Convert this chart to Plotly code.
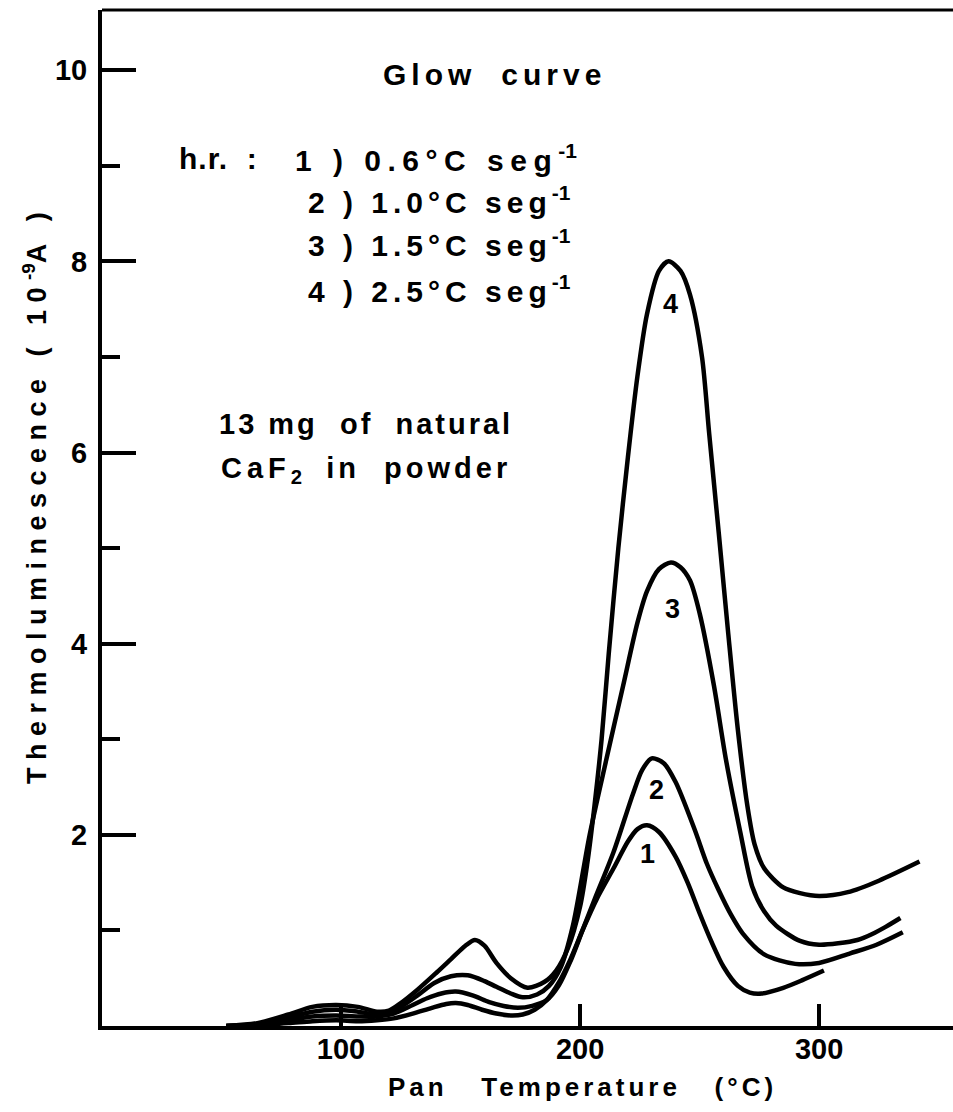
import plotly.graph_objects as go

# Thermoluminescence glow curves of natural CaF2 powder at four heating rates
heating_rates = ["0.6", "1.0", "1.5", "2.5"]
curve_names = ["1", "2", "3", "4"]

temp_1 = [52, 65, 78, 88, 98, 107, 115, 122, 130, 138, 144, 148, 153, 159, 165, 171, 176, 181, 186,
          191, 196, 201, 207, 214, 220, 224, 228, 233, 240, 245, 250, 255, 260, 266, 271, 276, 285, 293, 302]
tl_1 = [0, 0.01, 0.03, 0.05, 0.06, 0.05, 0.06, 0.08, 0.13, 0.19, 0.23, 0.24, 0.22, 0.17, 0.13, 0.11, 0.12, 0.17, 0.27,
        0.45, 0.7, 1.0, 1.33, 1.65, 1.93, 2.06, 2.1, 2.03, 1.77, 1.5, 1.18, 0.88, 0.62, 0.42, 0.35, 0.34, 0.4, 0.48, 0.58]

temp_2 = [52, 65, 78, 88, 98, 107, 115, 122, 130, 136, 142, 148, 155, 162, 168, 174, 180, 186, 191, 196,
          201, 206, 214, 222, 226, 230, 235, 240, 248, 253, 258, 263, 268, 277, 290, 300, 313, 324, 335]
tl_2 = [0, 0.01, 0.06, 0.1, 0.11, 0.1, 0.1, 0.13, 0.22, 0.29, 0.34, 0.36, 0.32, 0.25, 0.21, 0.19, 0.21, 0.27, 0.42, 0.68,
        1.0, 1.32, 1.82, 2.42, 2.68, 2.8, 2.75, 2.55, 2.05, 1.7, 1.42, 1.17, 0.97, 0.75, 0.65, 0.66, 0.76, 0.85, 0.98]

temp_3 = [52, 65, 78, 88, 98, 107, 115, 120, 125, 132, 139, 146, 153, 160, 165, 171, 176, 182, 187, 192, 197,
          204, 211, 218, 224, 228, 233, 238, 242, 246, 250, 256, 261, 267, 272, 277, 282, 292, 300, 308, 316, 322,
          328, 334]
tl_3 = [0, 0.02, 0.09, 0.15, 0.17, 0.15, 0.12, 0.14, 0.2, 0.32, 0.45, 0.52, 0.53, 0.47, 0.41, 0.34, 0.3, 0.33, 0.42, 0.62, 1.05,
        2.0, 2.79, 3.56, 4.22, 4.55, 4.78, 4.85, 4.8, 4.66, 4.32, 3.56, 2.79, 2.03, 1.46, 1.2, 1.05, 0.89, 0.85, 0.865, 0.9,
        0.96, 1.04, 1.13]

temp_4 = [52, 65, 78, 88, 98, 107, 115, 120, 125, 132, 140, 146, 152, 156, 160, 165, 171, 178, 185, 190, 195, 200, 203,
          206, 209, 212, 216, 220, 224, 228, 233, 237, 242, 246, 251, 254, 258, 262, 266, 270, 273, 277, 285, 292, 300,
          312, 325, 342]
tl_4 = [0, 0.03, 0.12, 0.2, 0.22, 0.2, 0.15, 0.16, 0.24, 0.38, 0.56, 0.7, 0.84, 0.9, 0.84, 0.66, 0.5, 0.4, 0.46, 0.58, 0.82,
        1.25, 1.7, 2.3, 3.0, 3.9, 5.0, 5.95, 6.8, 7.45, 7.9, 8.0, 7.9, 7.65, 7.0, 6.2, 5.16, 4.1, 3.1, 2.3, 1.9, 1.65,
        1.45, 1.39, 1.36, 1.40, 1.52, 1.72]

# where each curve carries its number
label_temp = [228, 232, 238.5, 238]
label_tl = [1.8, 2.47, 4.36, 7.55]

x_ticks = [100, 200, 300]
y_major = [2, 4, 6, 8, 10]
y_minor = [1, 3, 5, 7, 9]

FONT = "Liberation Sans"
INK = "black"


def spaced(text, px):
    return f'<span style="letter-spacing:{px}px">{text}</span>'


temps = [temp_1, temp_2, temp_3, temp_4]
signals = [tl_1, tl_2, tl_3, tl_4]

fig = go.Figure()
for name, t, s in zip(curve_names, temps, signals):
    fig.add_trace(go.Scatter(
        x=t, y=s, mode="lines", name=name,
        line=dict(color=INK, width=4.5, shape="spline", smoothing=0.8),
        showlegend=False,
    ))

annotations = []
for name, lx, ly in zip(curve_names, label_temp, label_tl):
    annotations.append(dict(x=lx, y=ly, xref="x", yref="y", text=name, showarrow=False,
                            font=dict(family=FONT, size=27, color=INK, weight="bold")))

text_font = dict(family=FONT, size=30, color=INK, weight="bold")
annotations.append(dict(x=164.4, y=9.95, xref="x", yref="y",
                        text=spaced("Glow", 5) + "&nbsp;&nbsp;&nbsp;" + spaced("curve", 5),
                        showarrow=False, font=text_font))

# heating-rate key
rate_rows = [9.08, 8.64, 8.19, 7.71]
annotations.append(dict(x=31.4, y=rate_rows[0], xref="x", yref="y", xanchor="left",
                        text=spaced("h.r.&nbsp;&nbsp;:", 1), showarrow=False, font=text_font))
for i, (rate, ry) in enumerate(zip(heating_rates, rate_rows)):
    gap = 6.5 if i == 0 else 5
    body = spaced(f"{i + 1}&nbsp;)&nbsp;{rate}°C&nbsp;seg", gap) + "<sup>-1</sup>"
    x_left = 80 if i == 0 else 85.5
    annotations.append(dict(x=x_left, y=ry, xref="x", yref="y", xanchor="left",
                            text=body, showarrow=False, font=text_font))

sample_font = dict(family=FONT, size=29, color=INK, weight="bold")
annotations.append(dict(x=48, y=6.3, xref="x", yref="y", xanchor="left",
                        text=spaced("13&nbsp;mg&nbsp;&nbsp;of&nbsp;&nbsp;natural", 3),
                        showarrow=False, font=sample_font))
annotations.append(dict(x=49, y=5.82, xref="x", yref="y", xanchor="left",
                        text=spaced("CaF", 5) + "<sub>2</sub>" + spaced("&nbsp;&nbsp;in&nbsp;&nbsp;powder", 4),
                        showarrow=False, font=sample_font))

title_font = dict(family=FONT, size=27, color=INK, weight="bold")
annotations.append(dict(x=-0.0787, y=0.5226, xref="paper", yref="paper", textangle=-90,
                        xanchor="center", yanchor="middle",
                        text=spaced("Thermoluminescence&nbsp;(&nbsp;10", 7.5) + "<sup>-9</sup>" + spaced("A&nbsp;)", 7.5),
                        showarrow=False, font=title_font))
annotations.append(dict(x=0.565, y=-0.06, xref="paper", yref="paper",
                        xanchor="center", yanchor="middle",
                        text=spaced("Pan&nbsp;&nbsp;&nbsp;Temperature&nbsp;&nbsp;&nbsp;(°C)", 4),
                        showarrow=False, font=dict(family=FONT, size=26, color=INK, weight="bold")))

fig.update_layout(
    width=953, height=1112,
    margin=dict(l=102, r=0, t=10, b=86),
    paper_bgcolor="white", plot_bgcolor="white",
    annotations=annotations,
    shapes=[dict(type="line", xref="paper", yref="paper", x0=0, x1=1, y0=1, y1=1,
                 line=dict(color=INK, width=3))],
)

fig.update_xaxes(
    range=[0, 356], showgrid=False, zeroline=False,
    showline=True, linewidth=4, linecolor=INK,
    tickmode="array", tickvals=x_ticks, ticktext=[str(v) for v in x_ticks],
    ticks="inside", ticklen=22, tickwidth=4, tickcolor=INK,
    ticklabelstandoff=-6,
    tickfont=dict(family=FONT, size=29, color=INK, weight="bold"),
)
fig.update_yaxes(
    range=[0, 10.63], showgrid=False, zeroline=False,
    showline=True, linewidth=4, linecolor=INK,
    tickmode="array", tickvals=y_major, ticktext=[str(v) for v in y_major],
    ticks="inside", ticklen=34, tickwidth=4, tickcolor=INK,
    ticklabelstandoff=5,
    tickfont=dict(family=FONT, size=29, color=INK, weight="bold"),
    minor=dict(tickmode="array", tickvals=y_minor, ticks="inside", ticklen=18, tickwidth=4, tickcolor=INK),
)

fig.write_html("out.html")
